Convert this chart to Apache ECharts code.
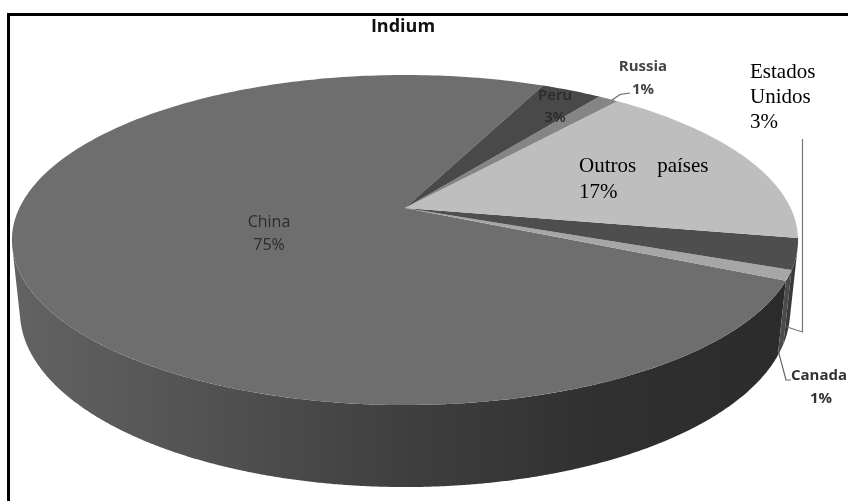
<!DOCTYPE html>
<html>
<head>
<meta charset="utf-8">
<style>html,body{margin:0;padding:0;background:#fff}#c{width:848px;height:501px}</style>
<script src="https://cdn.jsdelivr.net/npm/echarts@6/dist/echarts.min.js"></script>
</head>
<body>
<div id="c"></div>
<script>
// Share of world indium production, counter-clockwise from the China slice.
const countries = ['China', 'Canada', 'Estados Unidos', 'Outros países', 'Russia', 'Peru'];
const shares = [75, 1, 3, 17, 1, 3];
const topColors = ['#6e6e6e', '#a6a6a6', '#4e4e4e', '#bebebe', '#858585', '#494949'];
const wallColors = [null, '#4c4c4c', '#3a3a3a', '#3f3f3f', '#555555', '#333333'];
const chartTitle = 'Indium';

// Perspective model of the disc
const view = { cx: 405, cy: 208, a: 385.6, b: 158.8, k: 0.194, depth: 71.7, m: 0.02, start: 65.1 };

function project(deg, low) {
  const t = deg * Math.PI / 180;
  const u = Math.cos(t), v = Math.sin(t);
  const w = 1 + view.k * v + (low ? view.m : 0);
  return [view.cx + view.a * u / w, view.cy - (view.b * v - (low ? view.depth : 0)) / w];
}

function sliceRange(i) {
  const total = shares.reduce((s, x) => s + x, 0);
  const before = shares.slice(0, i).reduce((s, x) => s + x, 0);
  return [view.start + before / total * 360, view.start + (before + shares[i]) / total * 360];
}

function steps(from, to, perDegree) {
  const n = Math.max(2, Math.ceil(Math.abs(to - from) * perDegree));
  const out = [];
  for (let j = 0; j <= n; j++) out.push(from + (to - from) * j / n);
  return out;
}

// True when the side panel between two neighbouring angles faces the viewer.
function facesViewer(a0, a1) {
  const q = [project(a0, false), project(a1, false), project(a1, true), project(a0, true)];
  let area = 0;
  for (let j = 0; j < 4; j++) {
    const p = q[j], r = q[(j + 1) % 4];
    area += p[0] * r[1] - r[0] * p[1];
  }
  return area > 0;
}

const chinaWall = new echarts.graphic.LinearGradient(10, 0, 797, 0, [
  { offset: 0, color: '#636363' },
  { offset: 0.25, color: '#525252' },
  { offset: 0.5, color: '#3f3f3f' },
  { offset: 0.75, color: '#303030' },
  { offset: 1, color: '#2b2b2b' }
], true);

// Only the part of a slice's rim that faces the viewer gets a side polygon.
function renderWall(params) {
  const i = params.dataIndex;
  const [s, e] = sliceRange(i);
  const angles = steps(s, e, 4);
  const visible = [];
  for (let j = 0; j < angles.length - 1; j++) {
    if (facesViewer(angles[j], angles[j + 1])) {
      if (!visible.length || visible[visible.length - 1] !== angles[j]) visible.push(angles[j]);
      visible.push(angles[j + 1]);
    }
  }
  if (!visible.length) return null;
  const pts = visible.map(a => project(a, false)).concat(visible.slice().reverse().map(a => project(a, true)));
  return { type: 'polygon', shape: { points: pts }, style: { fill: i === 0 ? chinaWall : wallColors[i] } };
}

function renderTop(params) {
  const i = params.dataIndex;
  const [s, e] = sliceRange(i);
  const pts = [[view.cx, view.cy]].concat(steps(s, e, 1).map(a => project(a, false)));
  return { type: 'polygon', shape: { points: pts }, style: { fill: topColors[i] } };
}

const sans = '"Open Sans", sans-serif';
const serif = '"Liberation Serif", serif';
const pct = i => shares[i] + '%';
const txt = (x, y, text, extra) => ({
  type: 'text', x, y, z: 20,
  style: Object.assign({ text, font: '16px ' + sans, fill: '#333', textAlign: 'center', lineHeight: 23 }, extra)
});
const line = (pts, stroke) => ({
  type: 'polyline', z: 15, shape: { points: pts }, style: { stroke, lineWidth: 1.2, fill: 'none' }
});

const chart = echarts.init(document.getElementById('c'), null, { renderer: 'canvas' });
chart.setOption({
  animation: false,
  backgroundColor: '#fff',
  series: [
    { type: 'custom', coordinateSystem: 'none', z: 1, silent: true, renderItem: renderWall, data: shares },
    { type: 'custom', coordinateSystem: 'none', z: 2, silent: true, renderItem: renderTop, data: shares }
  ],
  graphic: [
    { type: 'polyline', z: 30, shape: { points: [[8.5, 501], [8.5, 14.5], [848, 14.5]] }, style: { stroke: '#000', lineWidth: 3, fill: 'none' } },
    txt(403, 15, chartTitle, { font: 'bold 18px ' + sans, fill: '#111' }),
    txt(269, 211, countries[0] + '\n' + pct(0), { fill: '#2c2c2c' }),
    txt(555, 85, countries[5] + '\n' + pct(5), { font: '600 15px ' + sans, fill: '#2a2a2a', lineHeight: 22 }),
    txt(643, 55, countries[4] + '\n' + pct(4), { font: 'bold 15px ' + sans, fill: '#444' }),
    txt(791, 364, countries[1], { font: 'bold 15px ' + sans, fill: '#333', textAlign: 'left' }),
    txt(821, 387, pct(1), { font: 'bold 15px ' + sans, fill: '#333' }),
    txt(750, 60, 'Estados\nUnidos\n' + pct(2), { font: '21px ' + serif, fill: '#000', textAlign: 'left', lineHeight: 25 }),
    txt(579, 153, 'Outros    países\n' + pct(3), { font: '21px ' + serif, fill: '#000', textAlign: 'left', lineHeight: 26 }),
    line([[612, 100], [620, 94.5], [630, 93]], '#666'),
    line([[802.5, 139], [802.5, 332], [787, 327]], '#777'),
    line([[778, 350], [786, 380], [791, 380]], '#666')
  ]
});
</script>
</body>
</html>
